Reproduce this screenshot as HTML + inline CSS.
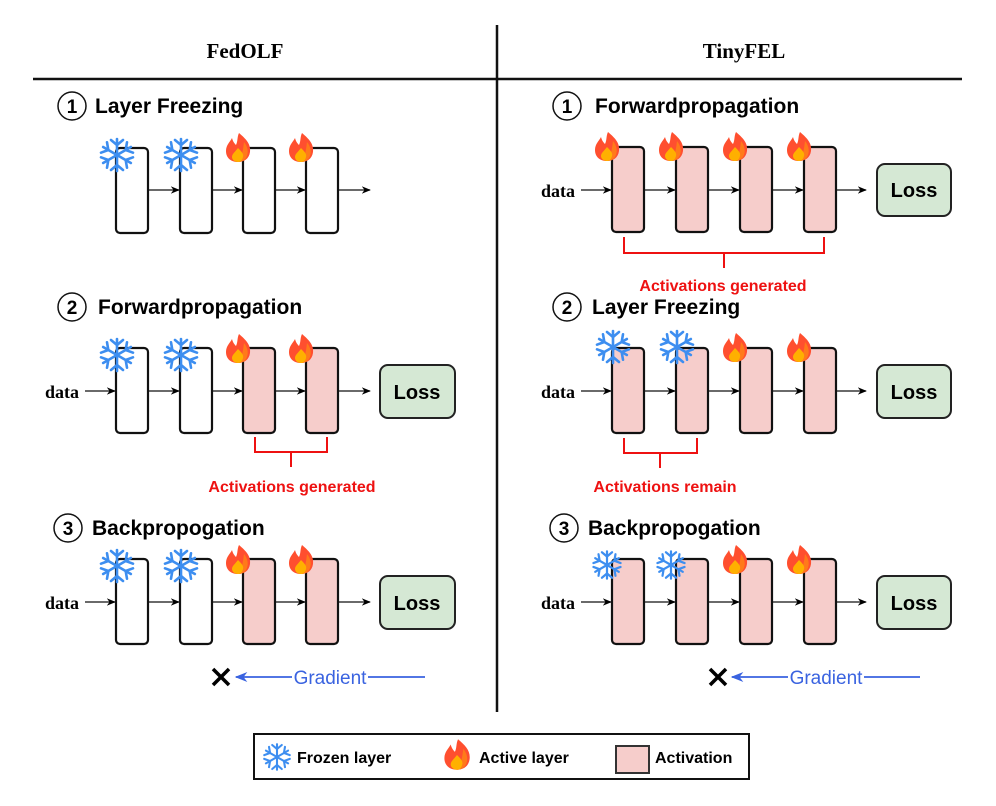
<!DOCTYPE html>
<html><head><meta charset="utf-8"><style>body{margin:0;background:#fff}svg{display:block}</style></head><body>
<svg width="996" height="806" viewBox="0 0 996 806" xmlns="http://www.w3.org/2000/svg" font-family="Liberation Sans, Arial, sans-serif">
<defs>
<marker id="ar" viewBox="0 0 10 10" refX="9" refY="5" markerWidth="7" markerHeight="7" orient="auto"><path d="M0,1 L10,5 L0,9 L3,5Z" fill="#000"/></marker>
<marker id="ab" viewBox="0 0 10 10" refX="9" refY="5" markerWidth="7" markerHeight="7" orient="auto"><path d="M0,1 L10,5 L0,9 L3,5Z" fill="#3a63e0"/></marker>
<g id="snow" stroke="#3d8ef0" stroke-width="2.6" stroke-linecap="round" fill="none">
<g id="arm"><line x1="0" y1="0" x2="0" y2="-16"/><polyline points="-6,-15 0,-10 6,-15"/></g>
<use href="#arm" transform="rotate(60)"/><use href="#arm" transform="rotate(120)"/><use href="#arm" transform="rotate(180)"/><use href="#arm" transform="rotate(240)"/><use href="#arm" transform="rotate(300)"/>
</g>
<g id="fire">
<path d="M1,-15 C8,-9 13,-4 12,4 C11,11 6,14 0,14 C-7,14 -12,10 -12,3 C-12,-3 -8,-6 -6,-10 C-5,-6 -3,-4 -2,-3 C0,-7 -1,-11 1,-15Z" fill="#ff4f2f"/>
<path d="M6,-6 C10,-1 11,5 8,10 C6,13 3,14 0,14 C4,10 5,2 6,-6Z" fill="#ff7a1a"/>
<path d="M0,0 C3,3 6,6 5,9 C4,13 2,14 0,14 C-3,14 -6,12 -6,9 C-6,6 -3,4 0,0Z" fill="#ffb000"/>
</g>
<g id="box"><rect x="0" y="0" width="32" height="85" rx="4" fill="#fff" stroke="#111" stroke-width="2.2"/></g>
<g id="pbox"><rect x="0" y="0" width="32" height="85" rx="4" fill="#f6cdcb" stroke="#111" stroke-width="2.2"/></g>
</defs>

<text x="245" y="58" font-family="Liberation Serif, serif" font-weight="bold" font-size="21" text-anchor="middle">FedOLF</text>
<text x="744" y="58" font-family="Liberation Serif, serif" font-weight="bold" font-size="21" text-anchor="middle">TinyFEL</text>
<line x1="33" y1="79" x2="962" y2="79" stroke="#111" stroke-width="2.5"/>
<line x1="497" y1="25" x2="497" y2="712" stroke="#111" stroke-width="2.5"/>

<g font-weight="bold" font-size="21">
<circle cx="72" cy="106" r="14" fill="#fff" stroke="#111" stroke-width="1.5"/><text x="72" y="113" text-anchor="middle" font-size="19">1</text><text x="95" y="113">Layer Freezing</text>
<circle cx="72" cy="307" r="14" fill="#fff" stroke="#111" stroke-width="1.5"/><text x="72" y="314" text-anchor="middle" font-size="19">2</text><text x="98" y="314">Forwardpropagation</text>
<circle cx="68" cy="528" r="14" fill="#fff" stroke="#111" stroke-width="1.5"/><text x="68" y="535" text-anchor="middle" font-size="19">3</text><text x="92" y="535">Backpropogation</text>
<circle cx="567" cy="106" r="14" fill="#fff" stroke="#111" stroke-width="1.5"/><text x="567" y="113" text-anchor="middle" font-size="19">1</text><text x="595" y="113">Forwardpropagation</text>
<circle cx="567" cy="307" r="14" fill="#fff" stroke="#111" stroke-width="1.5"/><text x="567" y="314" text-anchor="middle" font-size="19">2</text><text x="592" y="314">Layer Freezing</text>
<circle cx="564" cy="528" r="14" fill="#fff" stroke="#111" stroke-width="1.5"/><text x="564" y="535" text-anchor="middle" font-size="19">3</text><text x="588" y="535">Backpropogation</text>
</g>

<g stroke="#111" stroke-width="1.3" marker-end="url(#ar)">
<line x1="148" y1="190" x2="179" y2="190"/><line x1="212" y1="190" x2="242" y2="190"/><line x1="275" y1="190" x2="305" y2="190"/><line x1="338" y1="190" x2="370" y2="190"/>
<line x1="85" y1="391" x2="115" y2="391"/><line x1="148" y1="391" x2="179" y2="391"/><line x1="212" y1="391" x2="242" y2="391"/><line x1="275" y1="391" x2="305" y2="391"/><line x1="338" y1="391" x2="370" y2="391"/>
<line x1="85" y1="602" x2="115" y2="602"/><line x1="148" y1="602" x2="179" y2="602"/><line x1="212" y1="602" x2="242" y2="602"/><line x1="275" y1="602" x2="305" y2="602"/><line x1="338" y1="602" x2="370" y2="602"/>
<line x1="581" y1="190" x2="611" y2="190"/><line x1="644" y1="190" x2="675" y2="190"/><line x1="708" y1="190" x2="739" y2="190"/><line x1="772" y1="190" x2="803" y2="190"/><line x1="836" y1="190" x2="866" y2="190"/>
<line x1="581" y1="391" x2="611" y2="391"/><line x1="644" y1="391" x2="675" y2="391"/><line x1="708" y1="391" x2="739" y2="391"/><line x1="772" y1="391" x2="803" y2="391"/><line x1="836" y1="391" x2="866" y2="391"/>
<line x1="581" y1="602" x2="611" y2="602"/><line x1="644" y1="602" x2="675" y2="602"/><line x1="708" y1="602" x2="739" y2="602"/><line x1="772" y1="602" x2="803" y2="602"/><line x1="836" y1="602" x2="866" y2="602"/>
</g>

<use href="#box" x="116" y="148"/><use href="#box" x="180" y="148"/><use href="#box" x="243" y="148"/><use href="#box" x="306" y="148"/>
<use href="#box" x="116" y="348"/><use href="#box" x="180" y="348"/><use href="#pbox" x="243" y="348"/><use href="#pbox" x="306" y="348"/>
<use href="#box" x="116" y="559"/><use href="#box" x="180" y="559"/><use href="#pbox" x="243" y="559"/><use href="#pbox" x="306" y="559"/>
<use href="#pbox" x="612" y="147"/><use href="#pbox" x="676" y="147"/><use href="#pbox" x="740" y="147"/><use href="#pbox" x="804" y="147"/>
<use href="#pbox" x="612" y="348"/><use href="#pbox" x="676" y="348"/><use href="#pbox" x="740" y="348"/><use href="#pbox" x="804" y="348"/>
<use href="#pbox" x="612" y="559"/><use href="#pbox" x="676" y="559"/><use href="#pbox" x="740" y="559"/><use href="#pbox" x="804" y="559"/>

<use href="#snow" x="117" y="155"/><use href="#snow" x="181" y="155"/><use href="#fire" x="238" y="148"/><use href="#fire" x="301" y="148"/>
<use href="#snow" x="117" y="355"/><use href="#snow" x="181" y="355"/><use href="#fire" x="238" y="349"/><use href="#fire" x="301" y="349"/>
<use href="#snow" x="117" y="566"/><use href="#snow" x="181" y="566"/><use href="#fire" x="238" y="560"/><use href="#fire" x="301" y="560"/>
<use href="#fire" x="607" y="147"/><use href="#fire" x="671" y="147"/><use href="#fire" x="735" y="147"/><use href="#fire" x="799" y="147"/>
<use href="#snow" x="613" y="347"/><use href="#snow" x="677" y="347"/><use href="#fire" x="735" y="348"/><use href="#fire" x="799" y="348"/>
<use href="#snow" transform="translate(607,565) scale(0.85)"/><use href="#snow" transform="translate(671,565) scale(0.85)"/><use href="#fire" x="735" y="560"/><use href="#fire" x="799" y="560"/>

<g font-family="Liberation Serif, serif" font-weight="bold" font-size="18" text-anchor="end">
<text x="79" y="398">data</text><text x="79" y="609">data</text>
<text x="575" y="197">data</text><text x="575" y="398">data</text><text x="575" y="609">data</text>
</g>

<g fill="#d5e8d4" stroke="#222" stroke-width="2">
<rect x="380" y="365" width="75" height="53" rx="8"/><rect x="380" y="576" width="75" height="53" rx="8"/>
<rect x="877" y="164" width="74" height="52" rx="8"/><rect x="877" y="365" width="74" height="53" rx="8"/><rect x="877" y="576" width="74" height="53" rx="8"/>
</g>
<g font-weight="bold" font-size="20" text-anchor="middle">
<text x="417" y="399">Loss</text><text x="417" y="610">Loss</text>
<text x="914" y="197">Loss</text><text x="914" y="399">Loss</text><text x="914" y="610">Loss</text>
</g>

<g stroke="#ee1111" stroke-width="2" fill="none">
<polyline points="255,437 255,452 327,452 327,437"/><line x1="291" y1="452" x2="291" y2="467"/>
<polyline points="624,237 624,253 824,253 824,237"/><line x1="724" y1="253" x2="724" y2="268"/>
<polyline points="624,438 624,453 697,453 697,438"/><line x1="660" y1="453" x2="660" y2="468"/>
</g>
<g fill="#ee1111" font-weight="bold" font-size="16" text-anchor="middle">
<text x="292" y="492">Activations generated</text>
<text x="723" y="291">Activations generated</text>
<text x="665" y="492">Activations remain</text>
</g>

<g stroke="#3a63e0" stroke-width="1.8">
<line x1="425" y1="677" x2="368" y2="677"/><line x1="292" y1="677" x2="236" y2="677" marker-end="url(#ab)"/>
<line x1="920" y1="677" x2="864" y2="677"/><line x1="788" y1="677" x2="732" y2="677" marker-end="url(#ab)"/>
</g>
<g fill="#3a63e0" font-size="19" text-anchor="middle"><text x="330" y="684">Gradient</text><text x="826" y="684">Gradient</text></g>
<g stroke="#000" stroke-width="3.5"><line x1="213" y1="669" x2="229" y2="685"/><line x1="229" y1="669" x2="213" y2="685"/>
<line x1="710" y1="669" x2="726" y2="685"/><line x1="726" y1="669" x2="710" y2="685"/></g>

<rect x="254" y="734" width="495" height="45" fill="#fff" stroke="#111" stroke-width="2"/>
<use href="#snow" transform="translate(277,757) scale(0.8)"/>
<use href="#fire" transform="translate(457,755) scale(1.05)"/>
<rect x="616" y="746" width="33" height="27" fill="#f6cdcb" stroke="#333" stroke-width="2"/>
<g font-weight="bold" font-size="16"><text x="297" y="763">Frozen layer</text><text x="479" y="763">Active layer</text><text x="655" y="763">Activation</text></g>
</svg>
</body></html>
